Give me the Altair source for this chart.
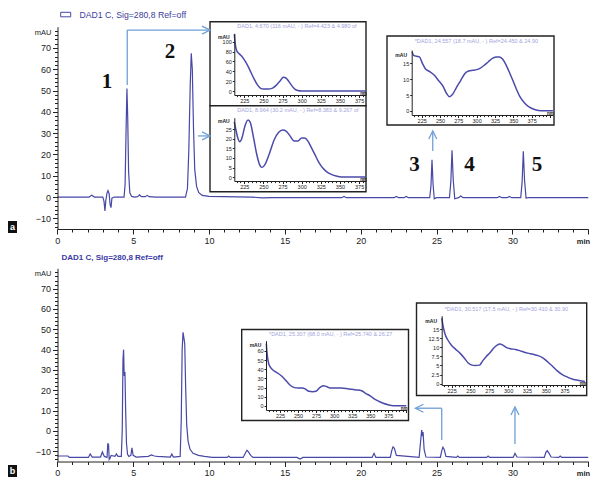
import altair as alt
import pandas as pd

# ---------------- values ----------------
# chromatogram a (DAD1 C, Sig=280,8)
top_time = [0, 2.1, 2.27, 2.45, 3.0, 3.08, 3.14, 3.2, 3.28, 3.34, 3.42, 3.48, 3.54, 3.6, 3.75,
            4.4, 4.47, 4.53, 4.59, 4.64, 4.7, 4.78, 4.9, 5.1, 5.3, 5.42, 5.55, 5.8, 5.92, 6.05, 6.5,
            8.45, 8.58, 8.67, 8.76, 8.83, 8.9, 8.98, 9.06, 9.18, 9.32, 9.55, 10.0, 12.8, 13.5, 14.2,
            18.75, 18.9, 19.05, 22.2, 22.35, 22.5, 22.85, 23.0, 23.15,
            24.55, 24.63, 24.7, 24.77, 24.85, 25.0, 25.85, 25.94, 26.02, 26.1, 26.2, 26.45, 26.6, 26.75,
            29.0, 29.15, 29.3, 29.65, 29.8, 29.95, 30.55, 30.64, 30.72, 30.8, 30.9, 31.05, 35.0]
top_mau = [0, 0, 0.9, 0, 0, -2, -6.5, -1.5, 2, 3, 1.5, -3.5, -5, -0.5, 0,
           0, 6, 30, 51, 38, 12, 2, 0.3, 0, 0.2, 1.0, 0.2, 0.2, 0.8, 0.2, 0,
           0, 4, 22, 52, 67.5, 60, 32, 13, 5, 2.2, 0.8, 0.3, 0, -0.4, -0.3,
           -0.3, 0.3, -0.3, -0.3, 0.3, -0.3, -0.3, 0.3, -0.3,
           -0.3, 5, 17.5, 6, -0.8, -0.3, -0.3, 7, 22, 8, -0.8, -0.3, 0.5, -0.3,
           -0.3, 0.3, -0.3, -0.3, 0.3, -0.3, -0.3, 7, 21.5, 8, -0.5, -0.3, -0.3]

# chromatogram b
bot_time = [0, 0.7, 0.8, 2.05, 2.17, 2.3, 2.85, 2.97, 3.1, 3.28, 3.33, 3.38, 3.42, 3.47, 3.55,
            3.8, 3.9, 4.0, 4.22, 4.28, 4.33, 4.37, 4.41, 4.46, 4.5, 4.56, 4.63, 4.72, 4.85, 4.92,
            5.0, 5.2, 6.0, 6.2, 6.4, 6.6, 7.45, 7.55, 7.65, 8.1, 8.17, 8.23, 8.29, 8.34, 8.4,
            8.46, 8.53, 8.62, 8.75, 8.95, 9.3, 9.7, 10.2, 11.2, 11.3, 11.4, 12.25, 12.4, 12.5,
            12.6, 12.75, 12.9, 15.8, 16.0, 16.2, 20.75, 20.88, 21.0, 21.95, 22.05, 22.13, 22.22,
            22.35, 23.85, 23.95, 24.02, 24.07, 24.11, 24.18, 24.3, 25.25, 25.35, 25.42, 25.5,
            25.62, 26.3, 26.4, 26.5, 28.3, 28.4, 28.5, 30.05, 30.17, 30.3, 32.1, 32.22, 32.3,
            32.42, 32.55, 33.05, 33.15, 33.25, 35.0]
bot_mau = [-12.3, -12.3, -13, -13, -11.3, -12.8, -12.8, -10.3, -12.5, -13, -6, -6.8, -14, -13.5, -12,
           -12.5, -11.3, -12.5, -12.5, 0, 35, 40, 27, 29, 12, -6, -11.5, -12.5, -12, -8.3,
           -12, -12.8, -12.5, -11.8, -12.3, -12.5, -12.8, -11.3, -12.8, -12.5, 5, 40, 48.5, 46, 43,
           22, 3, -5, -9, -11, -12, -12.5, -13, -13, -12.3, -13, -13, -10.8, -9.5,
           -10.3, -12, -13, -13, -13.8, -13, -13, -11, -13, -13, -9.5, -7.8, -8.5,
           -12, -13, -5, 0.5, -2.5, -0.5, -9, -12.8, -13, -9.5, -8, -9,
           -12.5, -13, -12.3, -13, -13, -12.3, -13, -13, -11, -12.8, -13, -10.3, -9.7,
           -11, -12.8, -13, -12.3, -13, -13]

# UV spectra in the insets (nm, mAU)
spec1_nm = [212, 213, 215, 218, 222, 226, 230, 234, 238, 242, 246, 250, 256, 262, 267, 272, 276,
            279, 283, 287, 291, 295, 300, 384]
spec1_mau = [115, 98, 82, 76, 70, 61, 50, 37, 24, 13, 6, 4, 4, 6, 12, 21, 28, 27, 20, 11, 4, 1, 0, 0]

spec2_nm = [212, 214, 217, 219, 222, 226, 230, 233, 237, 241, 245, 248, 252, 258, 264, 270, 275,
            280, 285, 290, 295, 300, 304, 308, 312, 317, 322, 327, 332, 338, 345, 352, 384]
spec2_mau = [29, 25, 20, 18.5, 20.5, 27, 30, 28.5, 21, 12.5, 6.5, 5, 6.5, 12.5, 19.5, 23.5, 24.7,
             24, 21.5, 19, 19, 20.5, 20.5, 19, 16, 12, 8, 5, 3, 1.5, 0.5, 0, 0]

spec3_nm = [212, 214, 218, 222, 226, 230, 236, 242, 248, 254, 259, 263, 267, 272, 278, 284, 289,
            295, 300, 305, 310, 316, 322, 327, 331, 335, 339, 344, 349, 354, 359, 365, 372, 380,
            388, 404]
spec3_mau = [18.6, 17.5, 17.2, 17.0, 15.0, 13.3, 12.4, 11.3, 9.6, 7.8, 5.5, 4.5, 5.2, 7.2, 9.5,
             11.8, 12.6, 12.8, 13.0, 13.5, 14.3, 15.5, 16.6, 17.0, 17.0, 16.4, 15.0, 12.5, 9.8,
             7.0, 4.5, 2.6, 1.2, 0.4, 0.1, 0.1]

spec4_nm = [206, 207, 209, 211, 214, 219, 225, 230, 235, 240, 245, 250, 256, 260, 265, 270, 275,
            280, 285, 290, 295, 300, 310, 320, 330, 338, 344, 350, 354, 360, 368, 375, 382, 390, 400]
spec4_mau = [68, 58, 47, 43, 40, 37, 34, 30.5, 26, 22, 20, 19.5, 19.5, 18.5, 16, 15.5, 16,
             20, 22, 21, 19.5, 19.5, 19.5, 18.5, 17.5, 16.5, 13.5, 11, 8.6, 5.8, 3, 1.3, 0.3, 0.2, 0.2]

spec5_nm = [212, 213, 216, 220, 225, 230, 236, 242, 247, 252, 256, 262, 266, 271, 276, 281, 285,
            289, 293, 298, 303, 310, 318, 326, 333, 340, 346, 352, 358, 365, 372, 379, 386, 394, 402]
spec5_mau = [18, 16.6, 13.8, 12.0, 10.5, 9.5, 8.4, 7.0, 5.7, 5.1, 5.0, 5.1, 6.2, 7.5, 8.5, 9.8,
             10.5, 10.9, 10.6, 9.9, 9.6, 9.4, 8.9, 8.4, 8.1, 7.7, 7.1, 6.1, 5.0, 3.6, 2.5, 1.8,
             1.2, 0.9, 0.6]

peak_names = ["1", "2", "3", "4", "5"]
peak_label_time = [3.28, 7.43, 23.55, 27.17, 31.62]
peak_label_mau = [54.0, 68.1, 15.0, 15.0, 15.0]

# arrows from peaks to spectra, in (min, mAU) of each chromatogram
arrow_a_t1 = [4.61, 4.61, 9.27, 24.75]
arrow_a_v1 = [52.6, 78.4, 28.7, 21.6]
arrow_a_t2 = [4.61, 10.07, 10.07, 24.75]
arrow_a_v2 = [78.4, 78.4, 28.7, 31.0]
head_a_t = [10.07, 10.07, 24.75]
head_a_v = [78.4, 28.7, 31.0]
head_a_dir = ["right", "right", "up"]
arrow_b_t1 = [25.34, 25.34, 30.17]
arrow_b_v1 = [-4.4, 11.2, -6.4]
arrow_b_t2 = [25.34, 23.61, 30.17]
arrow_b_v2 = [11.2, 11.2, 11.8]
head_b_t = [23.61, 30.17]
head_b_v = [11.2, 11.8]
head_b_dir = ["left", "up"]

inset_titles = [
    "DAD1, 4.670 (116 mAU, - ) Ref=4.423 & 4.980 of",
    "DAD1, 8.964 (30.2 mAU, - ) Ref=8.383 & 9.267 of",
    "*DAD1, 24.557 (18.7 mAU, - ) Ref=24.450 & 24.90",
    "*DAD1, 25.307 (68.0 mAU, - ) Ref=25.740 & 26.27",
    "*DAD1, 30.517 (17.5 mAU, - ) Ref=30.410 & 30.90",
]
legend_label = "DAD1 C, Sig=280,8 Ref=off"
panel_tags = ["a", "b"]
x_ticks = list(range(0, 36))
y_ticks = list(range(-14, 80, 2))

# ---------------- layout (pixels of the reference, page margin removed) ----------------
W, H = 600, 469
OFF = 8


def P(v):
    return round(v - OFF, 2)


BLUE = "#4747a6"
SPEC = "#4b4bab"
ARROW = "#6e9fd6"
INK = "#222222"
FONT = "Liberation Sans"
CHEVRON = {"right": "M-2,-1L0,0L-2,1", "left": "M2,-1L0,0L2,1", "up": "M-1,2L0,0L1,2"}

X_DOM = [0, 35]
X_RANGE = [P(57.3), P(57.3 + 35 * 15.17)]
Y_DOM = [-15, 80]
PANEL = {
    "a": dict(yr=[P(229.0), P(26.7)], axis_y=229.0, mau_y=32.0),
    "b": dict(yr=[P(461.5), P(268.3)], axis_y=461.5, mau_y=273.0),
}


def cond(test, big, small):
    return {"condition": {"test": test, "value": big}, "value": small}


AXSTYLE = dict(domainColor=INK, tickColor=INK, domainWidth=1, tickWidth=1, grid=False,
               labelColor=INK, labelFont=FONT, titleFont=FONT, titleColor=INK,
               labelFlush=False, labelOverlap=False, zindex=1)


def px_scale(dom, rng):
    return alt.Scale(domain=dom, range=rng, nice=False, zero=False)


def main_x(name, with_axis):
    g = PANEL[name]
    ax = None
    if with_axis:
        ax = alt.Axis(orient="bottom", offset=P(g["axis_y"]) - H, values=x_ticks,
                      labelExpr="datum.value % 5 == 0 && datum.value < 35 ? datum.label : ''",
                      tickSize=cond("datum.value % 5 == 0", 5, 3), labelFontSize=9, labelPadding=2,
                      title="min", titleAngle=0, titleX=P(583), titleY=12, titleAlign="center",
                      titleBaseline="middle", titleFontSize=7.5, titleFontWeight="bold", **AXSTYLE)
    return alt.X("t:Q", scale=px_scale(X_DOM, X_RANGE), axis=ax)


def main_y(name, with_axis):
    g = PANEL[name]
    ax = None
    if with_axis:
        ax = alt.Axis(orient="left", offset=-P(57.5), values=y_ticks, format="d",
                      labelExpr="datum.value % 10 == 0 && datum.value < 75 ? datum.label : ''",
                      tickSize=cond("datum.value % 10 == 0", 5, 3), labelFontSize=9, labelPadding=2,
                      title="mAU", titleAngle=0, titleX=-15, titleY=P(g["mau_y"]), titleAlign="center",
                      titleBaseline="middle", titleFontSize=7.5, titleFontWeight="normal", **AXSTYLE)
    return alt.Y("v:Q", scale=px_scale(Y_DOM, g["yr"]), axis=ax)


INSETS = [
    dict(nm=spec1_nm, mau=spec1_mau, frame=(210, 21.7, 366, 105.7), ax_x=234.3, ax_y=95.0, top=33.3,
         xdom=[212, 384], x_right=366.0, ydom=[-8, 117], yvals=[0, 20, 40, 60, 80, 100], fmt="d",
         mau_y=36.0, title_y=25.5),
    dict(nm=spec2_nm, mau=spec2_mau, frame=(210, 105.7, 366, 191.7), ax_x=234.3, ax_y=181.0, top=117.7,
         xdom=[212, 384], x_right=366.0, ydom=[-2.1, 31.2], yvals=[0, 5, 10, 15, 20, 25], fmt="d",
         mau_y=120.0, title_y=109.5),
    dict(nm=spec3_nm, mau=spec3_mau, frame=(387, 36, 554, 125), ax_x=411.7, ax_y=115.0, top=50.0,
         xdom=[211.4, 404], x_right=552.9, ydom=[-1.26, 19.18], yvals=[0, 5, 10, 15], fmt="d",
         mau_y=54.0, title_y=40.5),
    dict(nm=spec4_nm, mau=spec4_mau, frame=(241.7, 329.5, 408.5, 420.5), ax_x=266.0, ax_y=410.0, top=340.7,
         xdom=[205.6, 400.5], x_right=406.7, ydom=[-4.35, 71], yvals=[0, 10, 20, 30, 40, 50, 60], fmt="d",
         mau_y=344.0, title_y=334.0),
    dict(nm=spec5_nm, mau=spec5_mau, frame=(416.5, 303, 586.7, 395.5), ax_x=441.7, ax_y=385.0, top=315.7,
         xdom=[211.8, 402.8], x_right=585.5, ydom=[-0.36, 18.68],
         yvals=[0, 2.5, 5, 7.5, 10, 12.5, 15], fmt=".1~f", mau_y=320.0, title_y=308.5),
]

layers = []

# inset frames (white boxes)
frames = pd.DataFrame({
    "x0": [P(c["frame"][0]) for c in INSETS], "y0": [P(c["frame"][1]) for c in INSETS],
    "x1": [P(c["frame"][2]) for c in INSETS], "y1": [P(c["frame"][3]) for c in INSETS],
})
layers.append(alt.Chart(frames).mark_rect(fill="white", stroke=INK, strokeWidth=1.4).encode(
    x=alt.X("x0:Q", scale=None, axis=None), x2="x1",
    y=alt.Y("y0:Q", scale=None, axis=None), y2="y1"))

# inset spectra with their own axes
for c, ttl in zip(INSETS, inset_titles):
    df = pd.DataFrame({"nm": c["nm"], "mau": c["mau"]})
    xvals = [v for v in range(200, 405, 5) if c["xdom"][0] <= v <= c["xdom"][1]]
    xa = alt.Axis(orient="bottom", offset=P(c["ax_y"]) - H, values=xvals, format="d",
                  labelExpr="datum.value % 25 == 0 && datum.value >= 225 && datum.value <= 375 ? datum.label : ''",
                  tickSize=cond("datum.value % 25 == 0", 2.5, 1.6), labelFontSize=5.5, labelPadding=1,
                  title="nm", titleAngle=0, titleX=P(c["x_right"]) - 3, titleY=-1.5, titleAlign="center",
                  titleBaseline="middle", titleFontSize=4.5, titleFontWeight="bold", **AXSTYLE)
    ya = alt.Axis(orient="left", offset=-P(c["ax_x"]), values=c["yvals"], format=c["fmt"],
                  tickSize=2, labelFontSize=5.5, labelPadding=1,
                  title="mAU", titleAngle=0, titleX=-11, titleY=P(c["mau_y"]), titleAlign="center",
                  titleBaseline="middle", titleFontSize=5, titleFontWeight="bold", **AXSTYLE)
    layers.append(alt.Chart(df).mark_line(color=SPEC, strokeWidth=1.5, interpolate="monotone").encode(
        x=alt.X("nm:Q", scale=px_scale(c["xdom"], [P(c["ax_x"]), P(c["x_right"])]), axis=xa),
        y=alt.Y("mau:Q", scale=px_scale(c["ydom"], [P(c["ax_y"]), P(c["top"])]), axis=ya)))
    tx = P(c["ax_x"]) + 3
    tdf = pd.DataFrame({"x": [tx], "y": [P(c["title_y"])], "label": [ttl]})
    layers.append(alt.Chart(tdf).mark_text(align="left", baseline="middle", font=FONT, fontSize=5.5,
                                           color="#a3a3dc", limit=P(c["frame"][2]) - tx - 1, ellipsis="").encode(
        x=alt.X("x:Q", scale=None, axis=None), y=alt.Y("y:Q", scale=None, axis=None), text="label:N"))

# chromatograms
for name, tt, vv in (("a", top_time, top_mau), ("b", bot_time, bot_mau)):
    df = pd.DataFrame({"t": tt, "v": vv})
    layers.append(alt.Chart(df).mark_line(color=BLUE, strokeWidth=1.2).encode(
        x=main_x(name, True), y=main_y(name, True)))

# arrows
for name, t1, v1, t2, v2, ht, hv, hd in (
        ("a", arrow_a_t1, arrow_a_v1, arrow_a_t2, arrow_a_v2, head_a_t, head_a_v, head_a_dir),
        ("b", arrow_b_t1, arrow_b_v1, arrow_b_t2, arrow_b_v2, head_b_t, head_b_v, head_b_dir)):
    seg = pd.DataFrame({"t": t1, "v": v1, "t2": t2, "v2": v2})
    layers.append(alt.Chart(seg).mark_rule(color=ARROW, strokeWidth=1.3).encode(
        x=main_x(name, False), x2="t2", y=main_y(name, False), y2="v2"))
    heads = pd.DataFrame({"t": ht, "v": hv, "path": [CHEVRON[d] for d in hd]})
    layers.append(alt.Chart(heads).mark_point(filled=False, size=64, strokeWidth=1.3, color=ARROW,
                                              opacity=1).encode(
        x=main_x(name, False), y=main_y(name, False), shape=alt.Shape("path:N", scale=None)))

# peak numbers
pk = pd.DataFrame({"t": peak_label_time, "v": peak_label_mau, "label": peak_names})
layers.append(alt.Chart(pk).mark_text(font="Liberation Serif", fontWeight="bold", fontSize=21,
                                      color="#111111", baseline="middle", align="center").encode(
    x=main_x("a", False), y=main_y("a", False), text="label:N"))

# legend of chromatogram a (box + text) and label of chromatogram b
icon = pd.DataFrame({"x0": [P(60.7)], "x1": [P(70.7)], "y0": [P(12.3)], "y1": [P(16.8)]})
layers.append(alt.Chart(icon).mark_rect(fill="white", stroke=BLUE, strokeWidth=1).encode(
    x=alt.X("x0:Q", scale=None, axis=None), x2="x1", y=alt.Y("y0:Q", scale=None, axis=None), y2="y1"))
leg = pd.DataFrame({"x": [P(79.5)], "y": [P(14.8)], "label": [legend_label]})
layers.append(alt.Chart(leg).mark_text(align="left", baseline="middle", font=FONT, fontSize=8.7,
                                       color="#3c3c9c").encode(
    x=alt.X("x:Q", scale=None, axis=None), y=alt.Y("y:Q", scale=None, axis=None), text="label:N"))
leg2 = pd.DataFrame({"x": [P(61.5)], "y": [P(258.0)], "label": [legend_label]})
layers.append(alt.Chart(leg2).mark_text(align="left", baseline="middle", font=FONT, fontSize=8,
                                        fontWeight="bold", color="#3a3aa4").encode(
    x=alt.X("x:Q", scale=None, axis=None), y=alt.Y("y:Q", scale=None, axis=None), text="label:N"))

# panel tags a / b
tags = pd.DataFrame({"x0": [0, 0], "x1": [9, 9], "y0": [P(221.0), 457.0], "y1": [P(233.0), 469.0],
                     "xc": [4.5, 4.5], "yc": [P(227.0), 463.0], "label": panel_tags})
layers.append(alt.Chart(tags).mark_rect(fill="#111111").encode(
    x=alt.X("x0:Q", scale=None, axis=None), x2="x1", y=alt.Y("y0:Q", scale=None, axis=None), y2="y1"))
layers.append(alt.Chart(tags).mark_text(font=FONT, fontWeight="bold", fontSize=9, color="white",
                                        baseline="middle", align="center").encode(
    x=alt.X("xc:Q", scale=None, axis=None), y=alt.Y("yc:Q", scale=None, axis=None), text="label:N"))

chart = (
    alt.layer(*layers)
    .resolve_scale(x="independent", y="independent")
    .resolve_axis(x="independent", y="independent")
    .properties(width=W, height=H, padding=0, background="white",
                autosize=alt.AutoSizeParams(type="none"))
    .configure_view(stroke="transparent")
)

chart.save("out.html", embed_options={"renderer": "svg", "actions": False})
